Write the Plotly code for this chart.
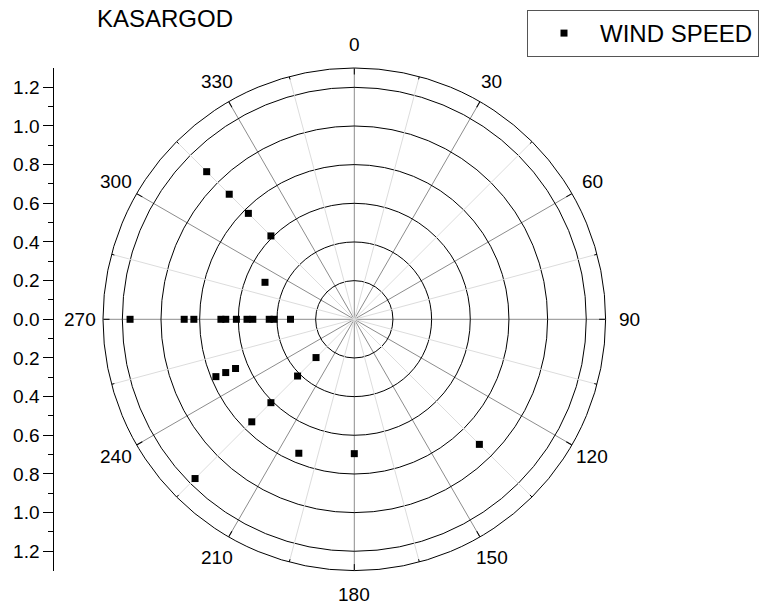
"""Polar scatter of wind speed by direction for Kasargod."""
import math

import plotly.graph_objects as go

# wind direction (deg, clockwise from north) and speed
direction = [270, 270, 270, 270, 270, 270, 270, 270, 270, 270, 270,
             315, 315, 315, 315, 292.5,
             225, 225, 225, 225, 225,
             247.5, 247.5, 247.5,
             202.5, 180, 135]
speed = [1.16, 0.88, 0.83, 0.69, 0.665, 0.61, 0.555, 0.525, 0.44, 0.415, 0.33,
         1.08, 0.915, 0.775, 0.61, 0.50,
         0.28, 0.415, 0.61, 0.75, 1.165,
         0.775, 0.72, 0.665,
         0.75, 0.695, 0.915]

angle_ticks = list(range(0, 360, 30))
minor_angles = [a + 15 for a in angle_ticks]
radial_ticks = [0.2, 0.4, 0.6, 0.8, 1.0, 1.2]
r_max = 1.3
side_ticks = [-1.2, -1.0, -0.8, -0.6, -0.4, -0.2, 0.0, 0.2, 0.4, 0.6, 0.8, 1.0, 1.2]
side_minor = [-1.1, -0.9, -0.7, -0.5, -0.3, -0.1, 0.1, 0.3, 0.5, 0.7, 0.9, 1.1]

FONT = "Liberation Sans, Arial, sans-serif"
W, H = 763, 608

# pixel geometry
cx, cy, rad = 354.3, 319.3, 251.3
label_gap = 23.5  # rim to angle label centre, px
x_dom = [(cx - rad) / W, (cx + rad) / W]
y_dom = [1 - (cy + rad) / H, 1 - (cy - rad) / H]


def _angle_label(a):
    d = rad + label_gap
    t = math.radians(a)
    return dict(
        text=str(a), showarrow=False, xref="paper", yref="paper",
        x=(cx + d * math.sin(t)) / W, y=1 - (cy - d * math.cos(t)) / H,
        xanchor="center", yanchor="middle",
        font=dict(size=19, family=FONT, color="black"),
    )


fig = go.Figure()

# light minor spokes with short rim ticks
for a in minor_angles:
    fig.add_trace(go.Scatterpolar(
        r=[0, r_max], theta=[a, a], mode="lines",
        line=dict(color="#dcdcdc", width=1), showlegend=False, hoverinfo="skip",
    ))
    fig.add_trace(go.Scatterpolar(
        r=[r_max - 0.015, r_max], theta=[a, a], mode="lines",
        line=dict(color="black", width=1), showlegend=False, hoverinfo="skip",
    ))

fig.add_trace(go.Scatterpolar(
    r=speed, theta=direction, mode="markers", name="WIND SPEED",
    marker=dict(symbol="square", size=7, color="black"),
))

# dummy trace so the mirrored speed scale on the left gets drawn
fig.add_trace(go.Scatter(x=[], y=[], xaxis="x", yaxis="y", showlegend=False))

fig.update_layout(
    width=W, height=H,
    margin=dict(l=0, r=0, t=0, b=0),
    paper_bgcolor="white", plot_bgcolor="white",
    font=dict(family=FONT, size=19, color="black"),
    title=dict(text="KASARGOD", x=97 / W, xanchor="left",
               y=1 - 19 / H, yanchor="middle",
               font=dict(size=24, family=FONT, color="black")),
    polar=dict(
        domain=dict(x=x_dom, y=y_dom),
        bgcolor="white",
        angularaxis=dict(
            direction="clockwise", rotation=90,
            tickmode="array", tickvals=angle_ticks, showticklabels=False,
            ticks="inside", ticklen=6, tickcolor="black",
            showline=True, linecolor="black", linewidth=1,
            gridcolor="#8c8c8c", gridwidth=1,
        ),
        radialaxis=dict(
            range=[0, r_max], tickmode="array", tickvals=radial_ticks,
            showticklabels=False, ticks="", showline=False,
            gridcolor="black", gridwidth=1,
        ),
    ),
    annotations=[_angle_label(a) for a in angle_ticks],
    xaxis=dict(domain=[54.3 / W, 0.09], visible=False, range=[0, 1]),
    yaxis=dict(
        domain=y_dom, anchor="x", range=[-r_max, r_max],
        tickmode="array", tickvals=side_ticks, ticktext=[f"{abs(v):.1f}" for v in side_ticks],
        ticks="outside", ticklen=10, tickcolor="black", tickwidth=1,
        showline=True, linecolor="black", linewidth=1,
        showgrid=False, zeroline=False,
        tickfont=dict(size=19, family=FONT, color="black"),
        minor=dict(tickvals=side_minor, ticks="outside", ticklen=5, tickcolor="black"),
    ),
    legend=dict(
        x=759 / W, xanchor="right", y=1 - 10 / H, yanchor="top",
        bordercolor="#555555", borderwidth=1, bgcolor="white",
        font=dict(size=24, family=FONT, color="black"),
        itemwidth=62,
    ),
)

# drop the default 8px body margin so the figure sits at the window corner
fig.write_html(
    "out.html",
    config={"displayModeBar": False},
    post_script="document.body.style.margin='0';",
)
